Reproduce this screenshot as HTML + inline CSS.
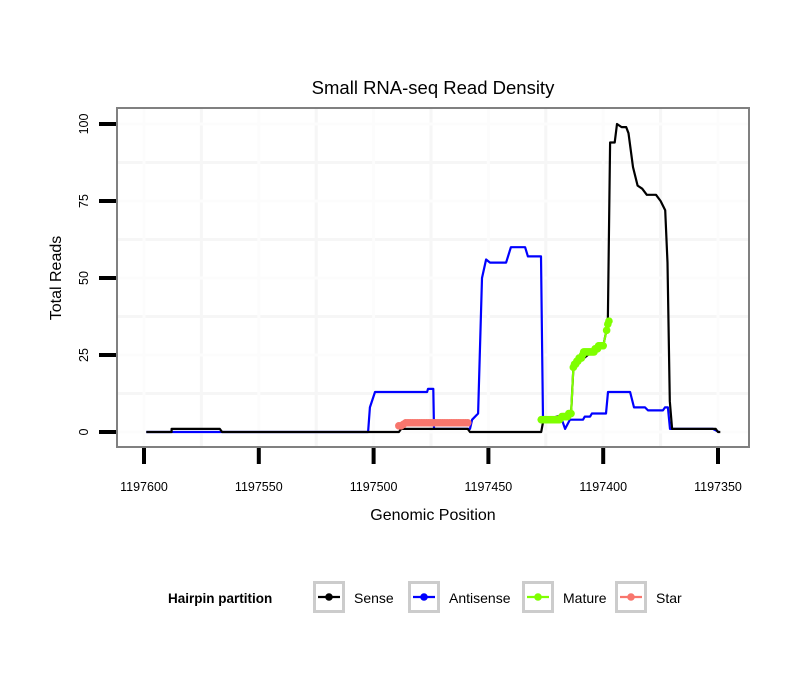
<!DOCTYPE html>
<html><head><meta charset="utf-8"><style>
body{margin:0;background:#fff;}
svg{display:block;font-family:"Liberation Sans",Arial,sans-serif;}
</style></head><body>
<svg id="chart" width="810" height="690" viewBox="0 0 810 690">
<rect x="0" y="0" width="810" height="690" fill="#fff"/>
<text x="433" y="94" font-size="18.5" text-anchor="middle" fill="#000">Small RNA-seq Read Density</text>
<g id="grid"></g>
<g id="series"></g>
<rect x="117" y="108" width="632" height="339" fill="none" stroke="#808080" stroke-width="2"/>
<g id="axes"></g>
<text x="433" y="520" font-size="16" text-anchor="middle">Genomic Position</text>
<text transform="translate(61,278) rotate(-90)" font-size="16" text-anchor="middle">Total Reads</text>
<g>
<text x="168" y="603" font-size="13.5" font-weight="bold">Hairpin partition</text>
<g id="legend-items"></g>
</g>
</svg>
<script>
const xTicks=[1197600,1197550,1197500,1197450,1197400,1197350];
const yTicks=[0,25,50,75,100];
const sensePos=[1197599,1197588,1197588,1197567,1197566,1197489,1197488,1197459,1197458,1197427,1197426,1197414,1197413,1197410,1197405,1197400,1197398,1197397,1197395,1197394,1197392,1197390,1197389,1197387,1197385,1197383,1197381,1197377,1197375,1197373,1197372,1197371,1197370,1197351,1197350,1197349];
const senseVal=[0,0,1,1,0,0,1,1,0,0,4,6,21,23,26,28,35,94,94,100,99,99,97,86,80,79,77,77,75,72,55,10,1,1,0,0];
const antiPos=[1197599,1197502.4,1197501.6,1197499.4,1197476.7,1197476.3,1197474,1197473.7,1197458,1197457.1,1197454.5,1197452.8,1197451,1197449.3,1197442.3,1197440.2,1197434,1197432.8,1197427.1,1197426.2,1197418,1197416.6,1197414.5,1197408.8,1197408,1197405.7,1197404.9,1197398.8,1197397.9,1197388.3,1197386.6,1197381.8,1197380.5,1197374,1197373.1,1197371.8,1197370.9,1197352.2,1197349.6];
const antiVal=[0,0,8,13,13,14,14,1,1,4,6,50,56,55,55,60,60,57,57,4,4,1,4,4,5,5,6,6,13,13,8,8,7,7,8,8,1,1,0];
const maturePos=[1197427,1197426.5,1197426,1197425.5,1197425,1197424.5,1197424,1197423.5,1197423,1197422.5,1197422,1197421.5,1197421,1197420.5,1197420,1197419.5,1197419,1197418.5,1197418,1197417.5,1197417,1197416.5,1197416,1197415.5,1197415,1197414.5,1197414,1197413,1197412.5,1197412,1197411.5,1197411,1197410.5,1197410,1197409.5,1197409,1197408.5,1197408,1197407.5,1197407,1197406.5,1197406,1197405.5,1197405,1197404.5,1197404,1197403.5,1197403,1197402.5,1197402,1197401.5,1197401,1197400.5,1197400,1197398.5,1197398,1197397.5];
const matureVal=[4,4,4,4,4,4,4,4,4,4,4,4,4,4,4,4,4,4.5,5,5,5,5,5,5,6,6,6,21,22,22,23,23,24,24,24,25,26,26,26,26,26,26,26,26,26,26,27,27,27,28,28,28,28,28,33,35,36];
const starPos=[1197489,1197488,1197487,1197486,1197485,1197484,1197483,1197482,1197481,1197480,1197479,1197478,1197477,1197476,1197475,1197474,1197473,1197472,1197471,1197470,1197469,1197468,1197467,1197466,1197465,1197464,1197463,1197462,1197461,1197460,1197459];
const starVal=[2,2,2.5,3,3,3,3,3,3,3,3,3,3,3,3,3,3,3,3,3,3,3,3,3,3,3,3,3,3,3,3];

const NS="http://www.w3.org/2000/svg";
function xs(p){return 144+(1197600-p)*2.296;}
function ys(v){return 432-v*3.08;}
function mk(tag,attrs,parent){const e=document.createElementNS(NS,tag);for(const k in attrs)e.setAttribute(k,attrs[k]);parent.appendChild(e);return e;}
const grid=document.getElementById('grid'),axes=document.getElementById('axes'),ser=document.getElementById('series');
for(let i=0;i<xTicks.length-1;i++){const m=(xTicks[i]+xTicks[i+1])/2;
 const l=mk('line',{x1:xs(m),x2:xs(m),y1:109,y2:446,stroke:'#f6f6f6','stroke-width':3},grid);
 
 }
for(let i=0;i<yTicks.length-1;i++){const m=(yTicks[i]+yTicks[i+1])/2;
 const l=mk('line',{x1:118,x2:748,y1:ys(m),y2:ys(m),stroke:'#f6f6f6','stroke-width':3},grid);
 
 }
xTicks.forEach(t=>{const l=mk('line',{x1:xs(t),x2:xs(t),y1:109,y2:446,stroke:'#fcfcfc','stroke-width':3},grid);
 
 
 const tk=mk('line',{x1:xs(t),x2:xs(t),y1:448,y2:464,stroke:'#000','stroke-width':4},axes);
 
 
 const tx=mk('text',{x:xs(t),y:491,'font-size':12.5,'text-anchor':'middle'},axes);tx.textContent=t;
 
 });
yTicks.forEach(t=>{const l=mk('line',{x1:118,x2:748,y1:ys(t),y2:ys(t),stroke:'#fcfcfc','stroke-width':3},grid);
 
 
 const tk=mk('line',{x1:99,x2:116,y1:ys(t),y2:ys(t),stroke:'#000','stroke-width':4},axes);
 
 
 const tx=mk('text',{transform:`translate(88,${ys(t)}) rotate(-90)`,'font-size':12.5,'text-anchor':'middle'},axes);tx.textContent=t;
 
 });
function line(P,V,color,name){const d=P.map((p,i)=>(i?'L':'M')+xs(p).toFixed(1)+','+ys(V[i]).toFixed(1)).join('');
 const e=mk('path',{d:d,fill:'none',stroke:color,'stroke-width':2.2,'stroke-linejoin':'round'},ser);
 
 }
function pts(P,V,color,name){line(P,V,color,name+'-line');P.forEach((p,i)=>{const c=mk('circle',{cx:xs(p),cy:ys(V[i]),r:3.8,fill:color},ser);
 
 });}
line(antiPos,antiVal,'#0000ff','antisense-line');
line(sensePos,senseVal,'#000','sense-line');
pts(starPos,starVal,'#f8766d','star');
pts(maturePos,matureVal,'#7fff00','mature');
const items=[['Sense','#000',313],['Antisense','#0000ff',408],['Mature','#7fff00',522],['Star','#f8766d',615]];
const lg=document.getElementById('legend-items');
items.forEach(([n,c,x])=>{const g=mk('g',{},lg);
 
 
 mk('rect',{x:x+1.5,y:582.5,width:29,height:29,fill:'#fff',stroke:'#cccccc','stroke-width':3},g);
 mk('line',{x1:x+5,x2:x+27,y1:597,y2:597,stroke:c,'stroke-width':2.2},g);
 mk('circle',{cx:x+16,cy:597,r:3.8,fill:c},g);
 const t=mk('text',{x:x+41,y:603,'font-size':14},g);t.textContent=n;});
</script>
</body></html>
